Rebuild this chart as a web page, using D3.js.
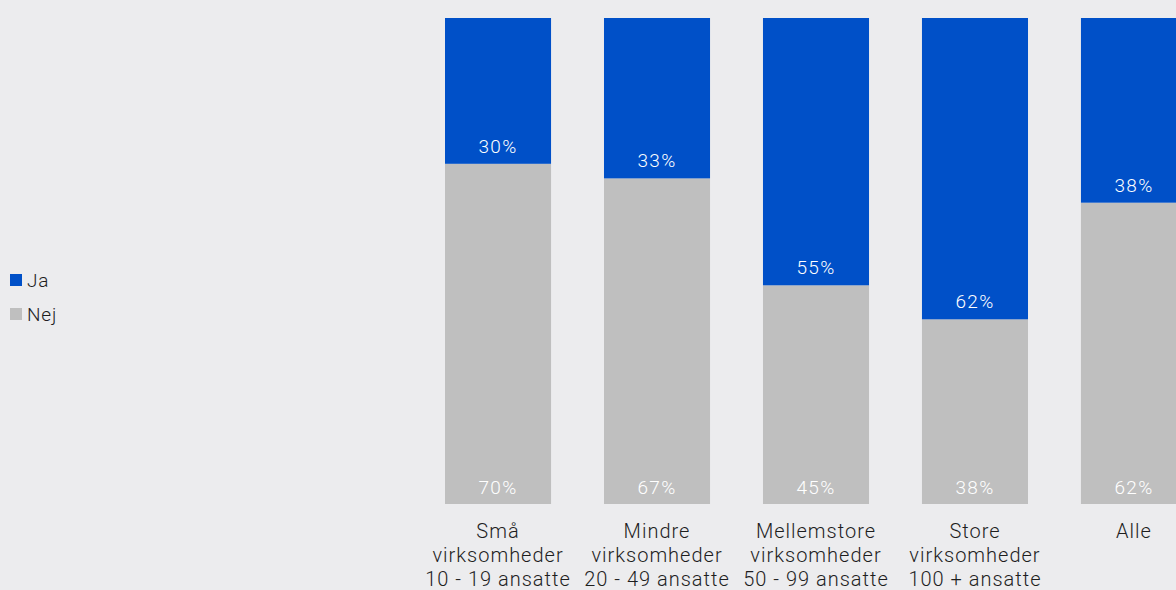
<!DOCTYPE html>
<html><head><meta charset="utf-8">
<script src="https://cdn.jsdelivr.net/npm/d3@7"></script>
<style>
html,body{margin:0;padding:0;background:#ececee;}
svg{display:block;font-family:"Roboto","DejaVu Sans",sans-serif;}
</style></head>
<body><svg id="c" width="1176" height="590"></svg>
<script>
const categories = ["Små virksomheder 10 - 19 ansatte", "Mindre virksomheder 20 - 49 ansatte", "Mellemstore virksomheder 50 - 99 ansatte", "Store virksomheder 100 + ansatte", "Alle"];
const categoryLines = [["Små","virksomheder","10 - 19 ansatte"],["Mindre","virksomheder","20 - 49 ansatte"],["Mellemstore","virksomheder","50 - 99 ansatte"],["Store","virksomheder","100 + ansatte"],["Alle"]];
const jaValues = [30, 33, 55, 62, 38];
const nejValues = [70, 67, 45, 38, 62];
const seriesNames = ["Ja", "Nej"];
const seriesColors = ["#0050c8", "#bfbfbf"];

const svg = d3.select("#c");
const x = d3.scaleBand().domain(categories).range([418.5, 418.5 + 5*159]).paddingInner(0.333).paddingOuter(0.1667);
const y = d3.scaleLinear().domain([0, 100]).range([504, 18]);

const g = svg.append("g");
categories.forEach((c, i) => {
  const nej = nejValues[i], ja = jaValues[i];
  g.append("rect").attr("x", x(c)).attr("width", x.bandwidth())
    .attr("y", y(nej)).attr("height", y(0) - y(nej)).attr("fill", seriesColors[1]);
  g.append("rect").attr("x", x(c)).attr("width", x.bandwidth())
    .attr("y", y(nej + ja)).attr("height", y(nej) - y(nej + ja)).attr("fill", seriesColors[0]);
  g.append("text").attr("x", x(c) + x.bandwidth()/2).attr("y", y(nej) - 11)
    .attr("text-anchor", "middle").attr("fill", "#ffffff").attr("font-size", 19).attr("font-weight", 300)
    .attr("letter-spacing", 1.3).text(ja + "%");
  g.append("text").attr("x", x(c) + x.bandwidth()/2).attr("y", y(0) - 10)
    .attr("text-anchor", "middle").attr("fill", "#ffffff").attr("font-size", 19).attr("font-weight", 300)
    .attr("letter-spacing", 1.3).text(nej + "%");
  const t = g.append("text").attr("text-anchor", "middle").attr("fill", "#1e1e1e").attr("font-size", 20)
    .attr("font-weight", 300).attr("letter-spacing", 1);
  categoryLines[i].forEach((ln, j) => {
    t.append("tspan").attr("x", x(c) + x.bandwidth()/2).attr("y", 538 + j*24).text(ln);
  });
});

const leg = svg.append("g");
seriesNames.forEach((s, i) => {
  leg.append("rect").attr("x", 10).attr("y", 274 + i*34).attr("width", 12).attr("height", 12).attr("fill", seriesColors[i]);
  leg.append("text").attr("x", 27).attr("y", 287 + i*34).attr("font-size", 19).attr("font-weight", 300)
    .attr("letter-spacing", 0.8).attr("fill", "#1e1e1e").text(s);
});
</script></body></html>
